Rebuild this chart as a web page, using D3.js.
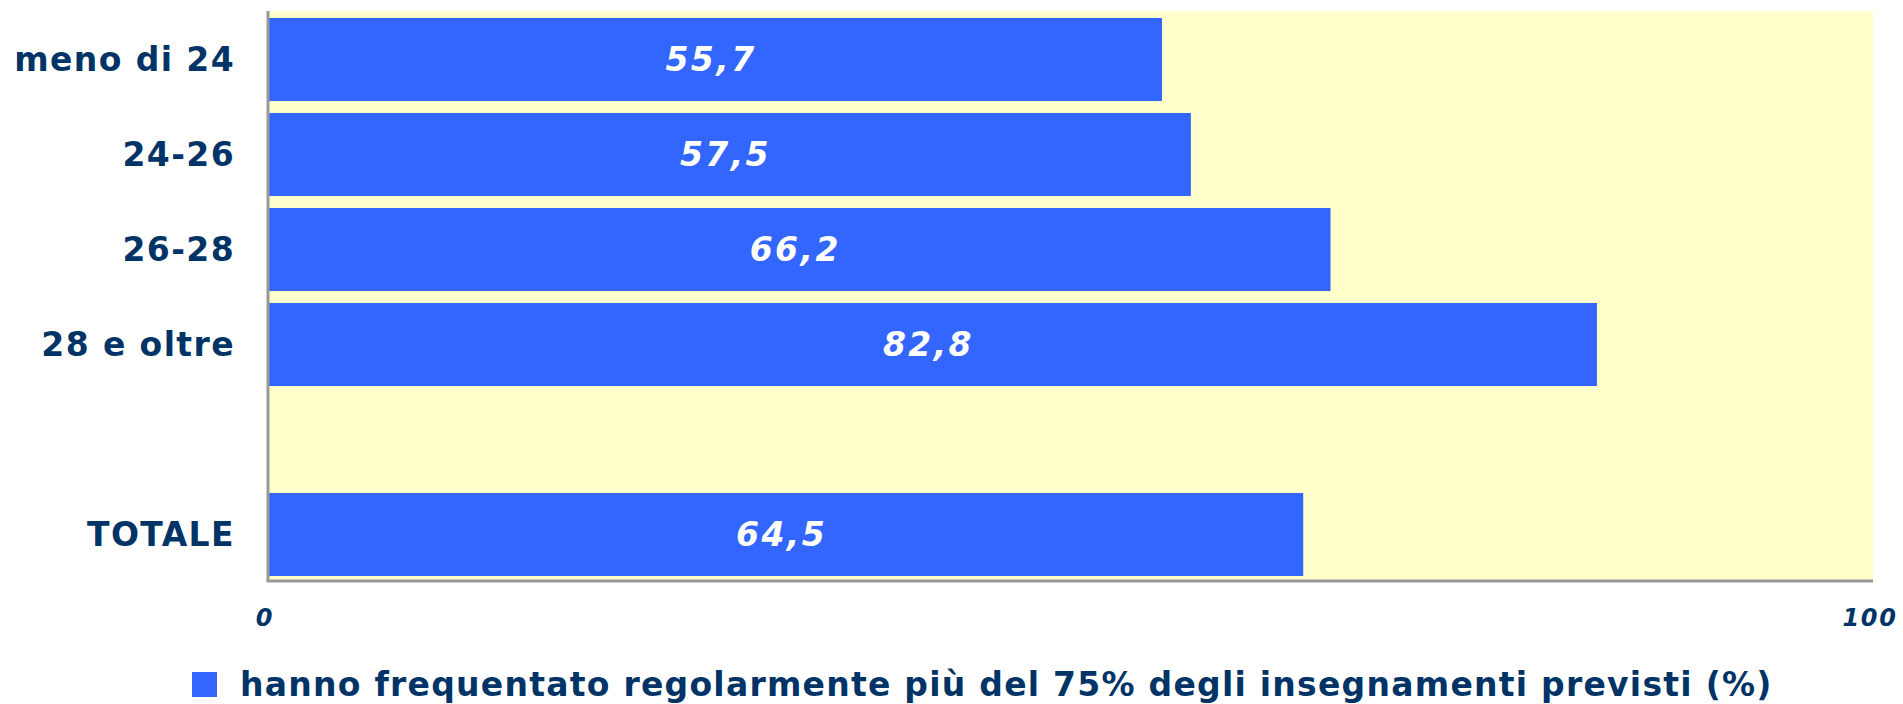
<!DOCTYPE html>
<html>
<head>
<meta charset="utf-8">
<script src="https://cdn.jsdelivr.net/npm/d3@7"></script>
<style>
  html, body { margin: 0; padding: 0; background: #fff; }
  svg { display: block; font-family: "DejaVu Sans", Verdana, sans-serif; }
</style>
</head>
<body>
<svg id="chart" width="1903" height="704"></svg>
<script>
// categories top to bottom, blank slot before TOTALE
const categories = ["meno di 24", "24-26", "26-28", "28 e oltre", "", "TOTALE"];
const values = [55.7, 57.5, 66.2, 82.8, null, 64.5];
const xTicks = [0, 100];
const seriesName = "hanno frequentato regolarmente più del 75% degli insegnamenti previsti (%)";

const navy = "#003366";
const barColor = "#3366FF";

const margin = {top: 11, right: 30, bottom: 123, left: 268};
const width = 1903, height = 704;
const svg = d3.select("#chart");

const x = d3.scaleLinear().domain([0, 100]).range([margin.left, width - margin.right]);
const y = d3.scaleBand()
  .domain(d3.range(categories.length))
  .range([margin.top, height - margin.bottom])
  .paddingInner(0.126)
  .paddingOuter(0.063);

// plot background
svg.append("rect")
  .attr("x", x(0)).attr("y", margin.top)
  .attr("width", x(100) - x(0)).attr("height", height - margin.bottom - margin.top)
  .attr("fill", "#FFFFCC");

const data = values.map((v, i) => ({i, v, label: categories[i]})).filter(d => d.v != null);

svg.append("g").selectAll("rect")
  .data(data)
  .join("rect")
  .attr("x", x(0))
  .attr("y", d => y(d.i) + 1)
  .attr("width", d => x(d.v) - x(0))
  .attr("height", y.bandwidth())
  .attr("fill", barColor);

// value labels
svg.append("g").selectAll("text")
  .data(data)
  .join("text")
  .attr("x", d => (x(0) + x(d.v)) / 2 - 4)
  .attr("y", d => y(d.i) + 1 + y.bandwidth() / 2)
  .attr("dy", "0.36em")
  .attr("text-anchor", "middle")
  .attr("fill", "#fff")
  .style("font-weight", "bold")
  .style("font-style", "italic")
  .style("font-size", "33px")
  .style("letter-spacing", "2.4px")
  .text(d => d3.format(".1f")(d.v).replace(".", ","));

// axes lines
svg.append("line")
  .attr("x1", x(0)).attr("x2", x(0))
  .attr("y1", margin.top).attr("y2", height - margin.bottom)
  .attr("stroke", "#999").attr("stroke-width", 3);
svg.append("line")
  .attr("x1", x(0) - 1.5).attr("x2", x(100))
  .attr("y1", height - margin.bottom).attr("y2", height - margin.bottom)
  .attr("stroke", "#999").attr("stroke-width", 3);

// category labels
svg.append("g").selectAll("text")
  .data(categories)
  .join("text")
  .attr("x", 235)
  .attr("y", (d, i) => y(i) + 1 + y.bandwidth() / 2)
  .attr("dy", "0.36em")
  .attr("text-anchor", "end")
  .attr("fill", navy)
  .style("font-weight", "bold")
  .style("font-size", "33px")
  .style("letter-spacing", "1.4px")
  .text(d => d);

// x tick labels
svg.append("g").selectAll("text")
  .data(xTicks)
  .join("text")
  .attr("x", d => x(d) - 3)
  .attr("y", 626)
  .attr("text-anchor", "middle")
  .attr("fill", navy)
  .style("font-weight", "bold")
  .style("font-style", "italic")
  .style("font-size", "24px")
  .style("letter-spacing", "1.6px")
  .text(d => d);

// legend
svg.append("rect")
  .attr("x", 192).attr("y", 672).attr("width", 25).attr("height", 25)
  .attr("fill", barColor);
svg.append("text")
  .attr("x", 240).attr("y", 696)
  .attr("fill", navy)
  .style("font-weight", "bold")
  .style("font-size", "33px")
  .style("letter-spacing", "1.25px")
  .text(seriesName);
</script>
</body>
</html>
